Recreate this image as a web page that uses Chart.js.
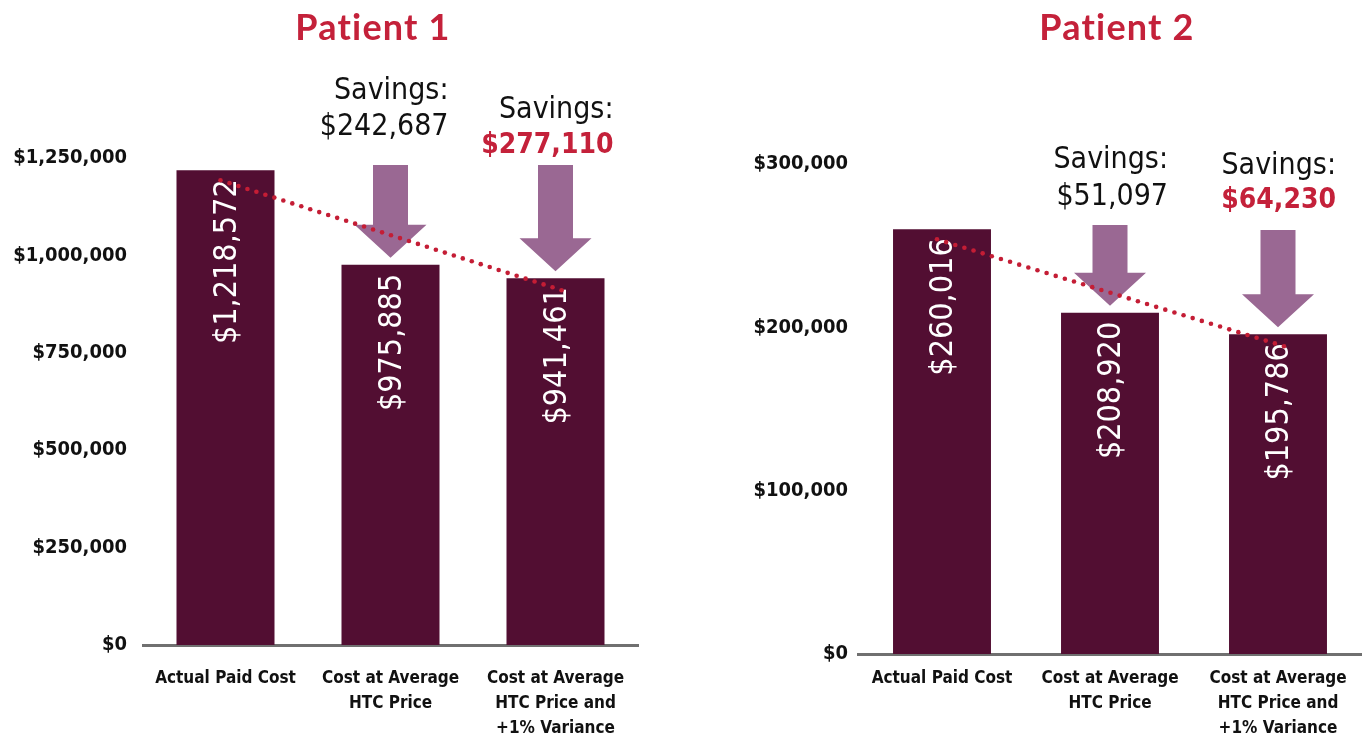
<!DOCTYPE html>
<html><head><meta charset="utf-8">
<script src="https://cdn.jsdelivr.net/npm/chart.js@4.4.0/dist/chart.umd.min.js"></script>
<style>
html,body{margin:0;padding:0;background:#fff;width:1362px;height:738px;overflow:hidden}
.box{position:absolute;top:0;height:738px}
#b1{left:0;width:690px}
#b2{left:690px;width:672px}
</style></head><body>
<div class="box" id="b1"><canvas id="c1" width="690" height="738"></canvas></div>
<div class="box" id="b2"><canvas id="c2" width="672" height="738"></canvas></div>
<script>
// ---- data ----
const categories = [["Actual Paid Cost"], ["Cost at Average", "HTC Price"], ["Cost at Average", "HTC Price and", "+1% Variance"]];
const patient1Values = [1218572, 975885, 941461];
const patient2Values = [260016, 208920, 195786];
const patient1Savings = [null, 242687, 277110];
const patient2Savings = [null, 51097, 64230];
const patient1Ticks = [0, 250000, 500000, 750000, 1000000, 1250000];
const patient2Ticks = [0, 100000, 200000, 300000];
const chartTitles = ["Patient 1", "Patient 2"];

// ---- styles ----
const BAR = '#520e32';
const RED = '#c4213a';
const ARROW = '#9a6893';
const DOT = '#c41d35';
const COND = '"DejaVu Sans Condensed", "DejaVu Sans", sans-serif';

function fmt(v){ return '$' + v.toLocaleString('en-US'); }

const overlay = {
  id: 'overlay',
  afterDatasetsDraw(chart, args, o) {
    const ctx = chart.ctx;
    const meta = chart.getDatasetMeta(0);
    const vals = chart.data.datasets[0].data;
    ctx.save();
    // title
    ctx.font = 'bold 36px Lato, sans-serif';
    try { ctx.letterSpacing = '1.2px'; } catch (e) {}
    ctx.fillStyle = RED; ctx.textAlign = 'center'; ctx.textBaseline = 'middle';
    ctx.fillText(o.title, o.titleX, 28);
    try { ctx.letterSpacing = '0px'; } catch (e) {}
    // rotated value labels
    meta.data.forEach((bar, i) => {
      ctx.save();
      ctx.translate(bar.x + 2, bar.y + 9);
      ctx.rotate(-Math.PI / 2);
      ctx.font = '32px ' + COND;
      ctx.fillStyle = '#ffffff'; ctx.textAlign = 'right'; ctx.textBaseline = 'middle';
      ctx.fillText(fmt(vals[i]), 0, 0);
      ctx.restore();
    });
    // arrows and savings text
    o.savings.forEach((s, i) => {
      if (s == null) return;
      const bar = meta.data[i];
      const L = o.layout[i];
      const x = bar.x, tip = bar.y - 7, top = L.arrowTop;
      const sw = 17.5, hw = 36, hh = 33;
      ctx.fillStyle = ARROW;
      ctx.beginPath();
      ctx.moveTo(x - sw, top); ctx.lineTo(x + sw, top); ctx.lineTo(x + sw, tip - hh);
      ctx.lineTo(x + hw, tip - hh); ctx.lineTo(x, tip); ctx.lineTo(x - hw, tip - hh);
      ctx.lineTo(x - sw, tip - hh); ctx.closePath(); ctx.fill();
      ctx.textAlign = 'right'; ctx.textBaseline = 'middle';
      ctx.font = '30px ' + COND; ctx.fillStyle = '#111';
      ctx.fillText('Savings:', x + 58, L.textY[0]);
      if (L.red) { ctx.font = 'bold 28px ' + COND; ctx.fillStyle = RED; }
      ctx.fillText(fmt(s), x + 58, L.textY[1]);
    });
    // dotted trend line
    const a = meta.data[0], b = meta.data[meta.data.length - 1];
    const x0 = a.x - 5, y0 = a.y + 10, x1 = b.x + 6, y1 = b.y + 12;
    const len = Math.hypot(x1 - x0, y1 - y0), n = Math.round(len / 9.5);
    ctx.fillStyle = DOT;
    for (let k = 0; k <= n; k++) {
      const t = k / n;
      ctx.beginPath(); ctx.arc(x0 + (x1 - x0) * t, y0 + (y1 - y0) * t, 2.3, 0, Math.PI * 2); ctx.fill();
    }
    ctx.restore();
  }
};

function makeChart(id, values, ticks, savings, opt) {
  return new Chart(document.getElementById(id), {
    type: 'bar',
    data: {
      labels: categories,
      datasets: [{ data: values, backgroundColor: BAR, borderWidth: 0,
        barPercentage: opt.barPct, categoryPercentage: 1 }]
    },
    plugins: [overlay],
    options: {
      responsive: false, animation: false, devicePixelRatio: 1,
      layout: { padding: { left: 0, right: opt.padRight, top: opt.padTop, bottom: 0 } },
      plugins: {
        legend: { display: false }, tooltip: { enabled: false }, title: { display: false },
        overlay: { title: opt.title, titleX: opt.titleX, savings: savings, layout: opt.layout }
      },
      scales: {
        x: {
          grid: { display: false, drawTicks: false },
          border: { display: true, color: '#707070', width: 3 },
          ticks: { color: '#111', font: { family: COND, size: 17, weight: 'bold', lineHeight: 1.47 }, padding: opt.xPad, maxRotation: 0, autoSkip: false },
          afterFit(s) { s.height = opt.xHeight; }
        },
        y: {
          min: 0, max: ticks[ticks.length - 1],
          grid: { display: false, drawTicks: false },
          border: { display: false },
          afterBuildTicks(s) { s.ticks = ticks.map(v => ({ value: v })); },
          ticks: { color: '#111', font: { family: COND, size: 20, weight: 'bold' }, padding: opt.yPad,
            callback: v => fmt(v) },
          afterFit(s) { s.width = opt.yWidth; }
        }
      }
    }
  });
}

makeChart('c1', patient1Values, patient1Ticks, patient1Savings, {
  title: chartTitles[0], titleX: 373, barPct: 0.594, padRight: 52, padTop: 158,
  xHeight: 93, yWidth: 143, yPad: 16, xPad: 21,
  layout: { 1: { arrowTop: 165, textY: [91, 127], red: false }, 2: { arrowTop: 165, textY: [110, 146], red: true } }
});
makeChart('c2', patient2Values, patient2Ticks, patient2Savings, {
  title: chartTitles[1], titleX: 427, barPct: 0.583, padRight: 0, padTop: 164,
  xHeight: 84, yWidth: 168, yPad: 10, xPad: 12,
  layout: { 1: { arrowTop: 225, textY: [160, 197], red: false }, 2: { arrowTop: 230, textY: [166, 201], red: true } }
});
</script>
</body></html>
